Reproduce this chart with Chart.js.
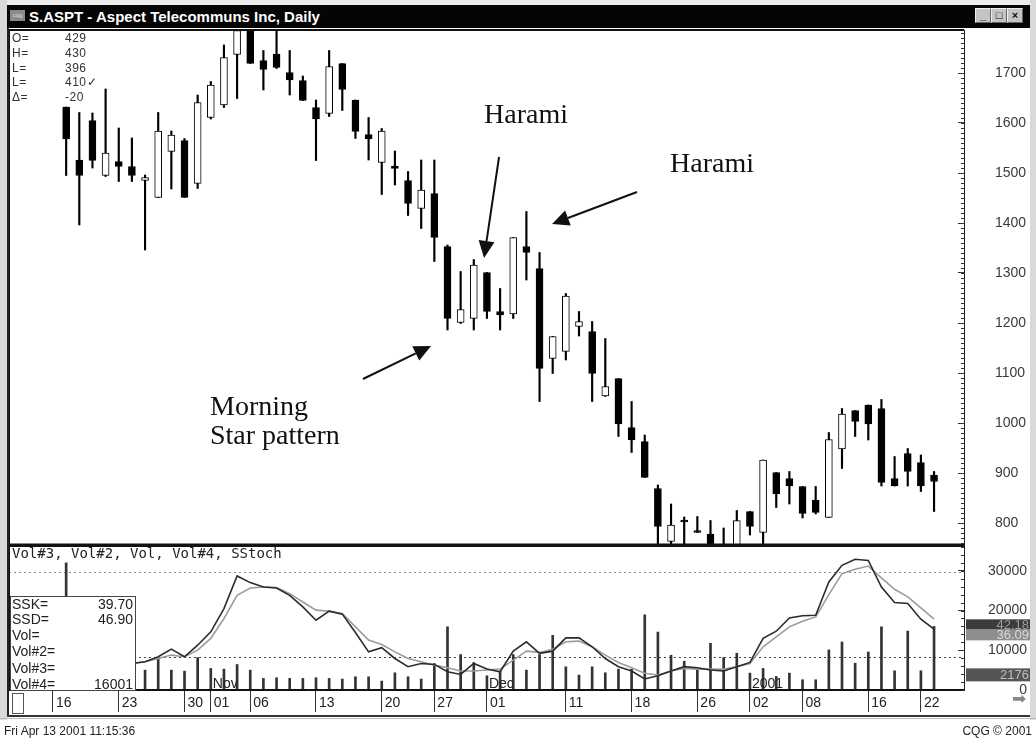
<!DOCTYPE html>
<html>
<head>
<meta charset="utf-8">
<script src="https://cdn.jsdelivr.net/npm/chart.js@4.4.1/dist/chart.umd.min.js"></script>
<style>
  html, body { margin:0; padding:0; background:#fff; }
  #page { position:relative; width:1036px; height:740px; overflow:hidden; background:#fff; font-family: Arial, "Liberation Sans", sans-serif; }
  .a { position:absolute; }
  canvas { position:absolute; }
  .btn { position:absolute; top:8px; width:14px; height:13px; background:#c4c4c4; border:1px solid #eee; border-right-color:#666; border-bottom-color:#666; font-size:11px; line-height:12px; text-align:center; color:#111; font-weight:bold; }
  .info { position:absolute; font-family:"Liberation Sans", Arial, sans-serif; font-size:12px; color:#333; letter-spacing:0.5px; }
  .box { position:absolute; font-family:Arial, "Liberation Sans", sans-serif; font-size:14px; color:#222; }
</style>
</head>
<body>
<div id="page">
  <div class="a" style="left:0;top:0;width:1036px;height:5px;background:#ececec"></div>
  <div class="a" style="left:0;top:0;width:7px;height:720px;background:#d9d9d9"></div>
  <div class="a" style="left:1030px;top:0;width:6px;height:720px;background:#d9d9d9"></div>
  <div class="a" style="left:7px;top:5px;width:1023px;height:23px;background:#050505"></div>
  <div class="a" style="left:10px;top:10px;width:15px;height:11px;background:#8a8a8a;font-size:6px;color:#ddd;line-height:11px;text-align:center">cqg</div>
  <div class="a" style="left:29px;top:5px;height:23px;line-height:23px;color:#fff;font-weight:bold;font-size:15px;">S.ASPT - Aspect Telecommuns Inc, Daily</div>
  <div class="btn" style="left:975px">_</div>
  <div class="btn" style="left:991px">&#9633;</div>
  <div class="btn" style="left:1007px">&#215;</div>

  <canvas id="cPrice" width="1036" height="518" style="left:0;top:28px"></canvas>
  <canvas id="cLow" width="1036" height="172" style="left:0;top:545px"></canvas>

  <!-- top-left quote box -->
  <div class="info" style="left:12px;top:31px">O=</div><div class="info" style="left:65px;top:31px">429</div>
  <div class="info" style="left:12px;top:46px">H=</div><div class="info" style="left:65px;top:46px">430</div>
  <div class="info" style="left:12px;top:61px">L=</div><div class="info" style="left:65px;top:61px">396</div>
  <div class="info" style="left:12px;top:75px">L=</div><div class="info" style="left:65px;top:75px">410&#10003;</div>
  <div class="info" style="left:12px;top:90px">&#916;=</div><div class="info" style="left:65px;top:90px">-20</div>

  <!-- lower panel header -->
  <div class="a" style="left:12px;top:545px;font-family:'DejaVu Sans Mono',monospace;font-size:14px;color:#222;line-height:16px">Vol#3, Vol#2, Vol, Vol#4, SStoch</div>

  <!-- lower-left value box -->
  <div class="a" style="left:10px;top:596px;width:124px;height:93px;background:#fff;border:1px solid #444;"></div>
  <div class="box" style="left:12px;top:596px">SSK=</div><div class="box" style="left:70px;width:63px;text-align:right;top:596px">39.70</div>
  <div class="box" style="left:12px;top:611px">SSD=</div><div class="box" style="left:70px;width:63px;text-align:right;top:611px">46.90</div>
  <div class="box" style="left:12px;top:627px">Vol=</div>
  <div class="box" style="left:12px;top:643px">Vol#2=</div>
  <div class="box" style="left:12px;top:660px">Vol#3=</div>
  <div class="box" style="left:12px;top:676px">Vol#4=</div><div class="box" style="left:70px;width:63px;text-align:right;top:676px">16001</div>

  <!-- date band furniture -->
  <div class="a" style="left:7px;top:28px;width:2px;height:689px;background:#222"></div>
  <div class="a" style="left:12px;top:693px;width:10px;height:19px;border:1px solid #555;background:#fff"></div>
  <div class="a" style="left:7px;top:715px;width:1023px;height:2px;background:#333"></div>
  <div class="a" style="left:0px;top:718px;width:1036px;height:1px;background:#bbb"></div>
  <div class="a" style="left:1012px;top:688px;font-size:17px;color:#888;font-family:'DejaVu Sans',sans-serif">&#10145;</div>

  <div class="a" style="left:4px;top:724px;font-size:12px;color:#222">Fri Apr 13 2001 11:15:36</div>
  <div class="a" style="right:4px;top:724px;font-size:12px;color:#222">CQG &#169; 2001</div>
</div>

<script>
// ---------------- data ----------------
const dates = [
  '2000-10-16','2000-10-17','2000-10-18','2000-10-19','2000-10-20',
  '2000-10-23','2000-10-24','2000-10-25','2000-10-26','2000-10-27',
  '2000-10-30','2000-10-31','2000-11-01','2000-11-02','2000-11-03',
  '2000-11-06','2000-11-07','2000-11-08','2000-11-09','2000-11-10',
  '2000-11-13','2000-11-14','2000-11-15','2000-11-16','2000-11-17',
  '2000-11-20','2000-11-21','2000-11-22','2000-11-24',
  '2000-11-27','2000-11-28','2000-11-29','2000-11-30','2000-12-01',
  '2000-12-04','2000-12-05','2000-12-06','2000-12-07','2000-12-08',
  '2000-12-11','2000-12-12','2000-12-13','2000-12-14','2000-12-15',
  '2000-12-18','2000-12-19','2000-12-20','2000-12-21','2000-12-22',
  '2000-12-26','2000-12-27','2000-12-28','2000-12-29',
  '2001-01-02','2001-01-03','2001-01-04','2001-01-05',
  '2001-01-08','2001-01-09','2001-01-10','2001-01-11','2001-01-12',
  '2001-01-16','2001-01-17','2001-01-18','2001-01-19',
  '2001-01-22','2001-01-23'
];
const open = [null,
  1632,1526,1605,1495,1523,1513,1485,1451,1543,1565,
  1479,1611,1636,1737,1790,1725,1738,1701,1685,1631,
  1619,1719,1646,1577,1521,1514,1485,1429,1459,1353,
  1201,1209,1301,1223,1218,1353,1309,1129,1143,1193,
  1183,1054,1089,991,963,869,763,806,785,778,
  740,755,823,781,901,889,873,846,811,948,
  1025,1036,1029,889,939,921,896];
const high = [null,
  1632,1621,1620,1668,1590,1570,1496,1621,1584,1569,
  1656,1683,1756,1800,1800,1745,1795,1745,1694,1646,
  1745,1719,1646,1611,1589,1544,1503,1526,1526,1356,
  1303,1327,1301,1269,1371,1423,1341,1173,1259,1223,
  1203,1169,1089,1043,976,876,838,812,813,805,
  790,825,823,926,901,903,873,873,981,1029,
  1025,1036,1047,933,949,936,903];
const low = [null,
  1495,1396,1510,1493,1483,1483,1346,1451,1468,1451,
  1469,1608,1631,1649,1719,1666,1709,1656,1645,1525,
  1613,1625,1569,1526,1457,1476,1415,1389,1323,1186,
  1199,1186,1209,1186,1209,1286,1043,1099,1126,1174,
  1043,1053,973,941,891,750,745,750,781,740,
  720,745,776,750,831,838,810,818,811,909,
  973,966,874,874,874,863,823];
const close = [null,
  1568,1495,1525,1540,1513,1495,1491,1584,1576,1451,
  1641,1676,1731,1785,1719,1707,1711,1686,1645,1608,
  1713,1667,1583,1568,1584,1509,1439,1466,1371,1209,
  1227,1316,1223,1216,1371,1341,1109,1173,1254,1203,
  1099,1073,998,966,891,793,796,802,781,755,
  745,805,793,926,858,874,819,821,967,1018,
  1003,998,881,874,903,874,883];
const volume = [null, 32000, null, null, null, null, null,
  5000,7750,5000,4750,8167,5417,5250,6417,5000,2917,
  3083,2917,2917,3083,2917,2750,3333,3333,2250,4333,
  3333,2750,6667,15917,8917,6917,3583,4750,8917,5000,
  8917,13750,5833,3750,5833,4333,5250,5250,18917,14583,
  8750,7250,5083,11750,8167,9250,4250,5417,3417,4250,
  2583,2583,10083,12083,6750,9583,15917,4833,14833,4833,
  16001];
const ssk = [null,null,null,null,null,null,
  15.5,16.7,20.2,25.6,20.2,28.4,37.9,54.3,77.4,72.7,
  69.6,68.9,63.7,55.5,46.1,52.5,50.4,37.4,23.7,26.6,
  19.0,13.2,15.5,14.8,9.6,7.7,15.5,11.5,9.6,24.2,
  30.8,22.6,24.2,33.6,33.6,27.3,19.0,13.2,10.1,4.5,
  6.8,10.1,13.2,12.4,10.8,10.1,13.2,16.2,33.2,38.3,
  47.7,49.2,49.6,73.2,84.9,89.2,88.4,69.6,58.6,57.9,
  46.8,39.7];
const ssd = [null,null,null,null,null,null,
  15.5,16.7,19.0,21.4,20.2,24.9,33.2,47.3,63.7,68.9,
  69.6,69.2,64.9,59.0,53.2,52.5,50.8,41.4,32.0,28.9,
  23.7,19.0,16.7,14.3,12.4,10.1,10.1,10.8,11.5,17.9,
  24.2,23.3,25.6,30.8,31.3,27.3,21.4,16.2,12.4,8.5,
  7.3,10.1,12.0,11.5,11.5,11.5,13.2,15.5,27.3,34.3,
  41.4,45.4,48.4,64.2,79.0,82.1,84.4,76.0,68.0,62.6,
  54.8,46.9];
const priceTicks = [800, 900, 1000, 1100, 1200, 1300, 1400, 1500, 1600, 1700];
const volTicks = [0, 10000, 20000, 30000];
const tickDates = ['2000-10-16','2000-10-23','2000-10-30','2000-11-01','2000-11-06','2000-11-13','2000-11-20','2000-11-27',
  '2000-12-01','2000-12-11','2000-12-18','2000-12-26','2001-01-02','2001-01-08','2001-01-16','2001-01-22'];
const tickLabels = ['16','23','30','01','06','13','20','27','01','11','18','26','02','08','16','22'];
const monthDates = ['2000-11-01','2000-12-01','2001-01-02'];
const monthLabels = ['Nov','Dec','2001'];
const flagValues = [42.18, 36.09, 2176];
const flagTexts = ['42.18', '36.09', '2176'];

// ---------------- helpers ----------------
const X_MIN = -3.346, X_MAX = 69.278;
const idxs = dates.map((d, i) => i).filter(i => open[i] != null);
const bodyData = idxs.map(i => ({x: i, y: [Math.min(open[i], close[i]), Math.max(open[i], close[i])]}));
const bodyColors = idxs.map(i => close[i] > open[i] ? '#ffffff' : '#000000');
const wickData = idxs.map(i => ({x: i, y: [low[i], high[i]]}));
const volData = dates.map((d, i) => ({x: i, y: volume[i]}));
const sskData = dates.map((d, i) => ({x: i, y: ssk[i]}));
const ssdData = dates.map((d, i) => ({x: i, y: ssd[i]}));
const tickIdx = tickDates.map(d => dates.indexOf(d));
const monthIdx = monthDates.map(d => dates.indexOf(d));

const framePlugin = {
  id: 'frame',
  afterDraw(chart, args, opts) {
    const {ctx, chartArea: a} = chart;
    ctx.save();
    ctx.strokeStyle = '#111';
    ctx.lineWidth = 2;
    ctx.beginPath();
    ctx.moveTo(a.left, a.top); ctx.lineTo(a.left, a.bottom);
    ctx.moveTo(a.left, a.top); ctx.lineTo(a.right, a.top);
    ctx.stroke();
    ctx.lineWidth = opts.bottomWidth || 2;
    ctx.beginPath();
    ctx.moveTo(a.left - 2, a.bottom); ctx.lineTo(a.right, a.bottom);
    ctx.stroke();
    ctx.restore();
  }
};

const minorTicksPlugin = {
  id: 'minorTicks',
  afterDraw(chart, args, opts) {
    const s = chart.scales[opts.axis];
    if (!s) return;
    const ctx = chart.ctx;
    ctx.save();
    ctx.strokeStyle = '#333';
    ctx.lineWidth = 1;
    ctx.beginPath();
    for (let v = Math.ceil(s.min / opts.step) * opts.step; v <= s.max; v += opts.step) {
      const y = Math.round(s.getPixelForValue(v)) + 0.5;
      ctx.moveTo(s.left - 3, y); ctx.lineTo(s.left, y);
    }
    ctx.stroke();
    ctx.restore();
  }
};

function arrow(ctx, x1, y1, x2, y2) {
  const ang = Math.atan2(y2 - y1, x2 - x1);
  const hl = 17, hw = 8;
  const bx = x2 - hl * Math.cos(ang), by = y2 - hl * Math.sin(ang);
  ctx.beginPath();
  ctx.moveTo(x1, y1); ctx.lineTo(bx, by);
  ctx.stroke();
  ctx.beginPath();
  ctx.moveTo(x2, y2);
  ctx.lineTo(bx + hw * Math.sin(ang), by - hw * Math.cos(ang));
  ctx.lineTo(bx - hw * Math.sin(ang), by + hw * Math.cos(ang));
  ctx.closePath();
  ctx.fill();
}

const annoPlugin = {
  id: 'anno',
  afterDraw(chart) {
    const {ctx} = chart;
    const x = chart.scales.x, y = chart.scales.y;
    const texts = [
      {t: 'Harami', i: 32.78, p: 1614},
      {t: 'Harami', i: 46.92, p: 1516},
      {t: 'Morning', i: 11.94, p: 1030},
      {t: 'Star pattern', i: 11.94, p: 972}
    ];
    const arrows = [
      [33.92, 1532, 32.78, 1330],
      [44.41, 1462, 37.95, 1398],
      [23.57, 1088, 28.75, 1154]
    ];
    ctx.save();
    ctx.fillStyle = '#111';
    ctx.strokeStyle = '#111';
    ctx.lineWidth = 2;
    ctx.font = '28px "Liberation Serif", "Times New Roman", serif';
    ctx.textBaseline = 'middle';
    ctx.textAlign = 'left';
    texts.forEach(o => ctx.fillText(o.t, x.getPixelForValue(o.i), y.getPixelForValue(o.p)));
    arrows.forEach(a => arrow(ctx, x.getPixelForValue(a[0]), y.getPixelForValue(a[1]), x.getPixelForValue(a[2]), y.getPixelForValue(a[3])));
    ctx.restore();
  }
};

const monthPlugin = {
  id: 'months',
  afterDatasetsDraw(chart) {
    const {ctx, chartArea: a} = chart;
    const x = chart.scales.x;
    ctx.save();
    ctx.fillStyle = '#222';
    ctx.font = '14px Arial, "Liberation Sans", sans-serif';
    ctx.textBaseline = 'bottom';
    monthIdx.forEach((mi, k) => ctx.fillText(monthLabels[k], x.getPixelForValue(mi) + 2, a.bottom + 1));
    ctx.restore();
  }
};

const flagPlugin = {
  id: 'flags',
  afterDraw(chart) {
    const {ctx} = chart;
    const st = chart.scales.stoch, vol = chart.scales.vol;
    const y1 = st.getPixelForValue(flagValues[1]);
    const y0 = st.getPixelForValue(flagValues[0]);
    const y2 = vol.getPixelForValue(flagValues[2]);
    const boxes = [
      {top: y1 - 5, h: 11, bg: '#8d8d8d', fg: '#d8d8d8', t: flagTexts[1]},
      {top: Math.min(y0 - 5, y1 - 5 - 10), h: 10, bg: '#3b3b3b', fg: '#9a9a9a', t: flagTexts[0]},
      {top: y2 - 13, h: 13, bg: '#555555', fg: '#bdbdbd', t: flagTexts[2]}
    ];
    ctx.save();
    ctx.font = '13px Arial, "Liberation Sans", sans-serif';
    ctx.textAlign = 'right';
    ctx.textBaseline = 'middle';
    boxes.forEach(b => {
      ctx.fillStyle = b.bg;
      ctx.fillRect(966, b.top, 64, b.h);
      ctx.fillStyle = b.fg;
      ctx.fillText(b.t, 1029, b.top + b.h / 2 + 1);
    });
    ctx.restore();
  }
};

const fitY = s => { s.width = 63; s.paddingTop = 0; s.paddingBottom = 0; };

// ---------------- price chart ----------------
new Chart(document.getElementById('cPrice'), {
  type: 'bar',
  data: {
    datasets: [
      {label: 'body', data: bodyData, backgroundColor: bodyColors, borderColor: '#000', borderWidth: 1,
       borderSkipped: false, barThickness: 7, grouped: false, order: 0},
      {label: 'wick', data: wickData, backgroundColor: '#000', borderWidth: 0,
       barThickness: 1.5, grouped: false, order: 1}
    ]
  },
  options: {
    responsive: false, animation: false, devicePixelRatio: 1,
    layout: {padding: {left: 9, right: 9, top: 2, bottom: 1}},
    plugins: {legend: {display: false}, tooltip: {enabled: false}, frame: {bottomWidth: 3},
      minorTicks: {axis: 'y', step: 10}},
    scales: {
      x: {type: 'linear', min: X_MIN, max: X_MAX, display: false, offset: false, grid: {offset: false}},
      y: {
        type: 'linear', position: 'right', min: 756, max: 1786,
        afterFit: fitY,
        afterBuildTicks: ax => { ax.ticks = priceTicks.map(v => ({value: v})); },
        ticks: {autoSkip: false, callback: v => String(v),
          crossAlign: 'near', padding: 37,
          color: '#3a3a3a', font: {family: 'Arial, "Liberation Sans", sans-serif', size: 14}},
        grid: {drawOnChartArea: false, drawTicks: true, tickLength: -6, color: '#333', lineWidth: 1},
        border: {display: true, color: '#222', width: 1}
      }
    }
  },
  plugins: [framePlugin, minorTicksPlugin, annoPlugin]
});

// ---------------- lower chart ----------------
new Chart(document.getElementById('cLow'), {
  type: 'bar',
  data: {
    datasets: [
      {type: 'line', label: 'SSK', data: sskData, yAxisID: 'stoch', borderColor: '#2b2b2b', borderWidth: 1.6,
       pointRadius: 0, tension: 0, order: 0},
      {type: 'line', label: 'SSD', data: ssdData, yAxisID: 'stoch', borderColor: '#9c9c9c', borderWidth: 1.6,
       pointRadius: 0, tension: 0, order: 1},
      {type: 'bar', label: 'Vol', data: volData, yAxisID: 'vol', backgroundColor: '#333', borderWidth: 0,
       barThickness: 2, grouped: false, order: 2}
    ]
  },
  options: {
    responsive: false, animation: false, devicePixelRatio: 1,
    layout: {padding: {left: 9, right: 9, top: 1, bottom: 2}},
    plugins: {legend: {display: false}, tooltip: {enabled: false}, frame: {bottomWidth: 2},
      minorTicks: {axis: 'vol', step: 2000}},
    scales: {
      x: {
        type: 'linear', min: X_MIN, max: X_MAX, position: 'bottom', offset: false,
        afterBuildTicks: ax => { ax.ticks = tickIdx.map(v => ({value: v})); },
        afterFit: s => { s.height = 25; s.paddingLeft = 0; s.paddingRight = 0; },
        ticks: {autoSkip: false, maxRotation: 0, minRotation: 0, align: 'start', padding: -17, labelOffset: 3,
          callback: (v, i) => tickLabels[i], color: '#222', font: {family: 'Arial, "Liberation Sans", sans-serif', size: 14}},
        grid: {offset: false, drawOnChartArea: false, drawTicks: true, tickLength: 22, color: '#333', lineWidth: 1},
        border: {display: true, color: '#111', width: 2}
      },
      vol: {
        type: 'linear', position: 'right', min: 0, max: 36250,
        afterFit: fitY,
        afterBuildTicks: ax => { ax.ticks = volTicks.map(v => ({value: v})); },
        ticks: {autoSkip: false, callback: v => String(v),
          crossAlign: 'far', padding: 30,
          color: '#3a3a3a', font: {family: 'Arial, "Liberation Sans", sans-serif', size: 14}},
        grid: {drawOnChartArea: false, drawTicks: true, tickLength: -6, color: '#333', lineWidth: 1},
        border: {display: true, color: '#222', width: 1}
      },
      stoch: {
        type: 'linear', position: 'left', min: -3.3, max: 98.6,
        afterFit: s => { s.width = 0; s.paddingTop = 0; s.paddingBottom = 0; },
        afterBuildTicks: ax => { ax.ticks = [{value: 20}, {value: 80}]; },
        ticks: {display: false},
        grid: {drawTicks: false, lineWidth: 1,
          color: c => (c.tick && c.tick.value === 80 ? '#8a8a8a' : '#444')},
        border: {display: false, dash: [2, 3]}
      }
    }
  },
  plugins: [framePlugin, minorTicksPlugin, monthPlugin, flagPlugin]
});
</script>
</body>
</html>
